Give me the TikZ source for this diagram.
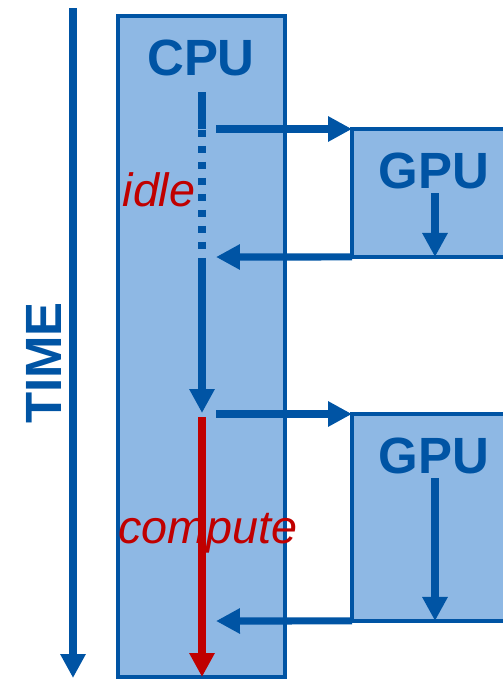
\documentclass[tikz,border=0pt]{standalone}
\usepackage{fontspec}
\setmainfont{Liberation Sans}
\usetikzlibrary{arrows.meta}
\definecolor{hwAzul}{HTML}{0054A4}
\definecolor{hwCeleste}{HTML}{8EB8E4}
\definecolor{hwRojo}{HTML}{C00000}

\begin{document}
\begin{tikzpicture}[x=0.02cm, y=-0.02cm,
      box/.style={draw=hwAzul, line width=2.2pt, fill=hwCeleste, inner sep=0pt, outer sep=0pt},
      lbl/.style={text=hwAzul, font=\fontsize{29}{30}\selectfont\bfseries, inner sep=0pt},
      word/.style={text=hwRojo, font=\fontsize{26.6}{28}\selectfont\itshape, inner sep=0pt, anchor=base},
      flow/.style={draw=#1, line width=4pt, -{Triangle[width=0.48cm, length=0.48cm]}},
      flow/.default=hwAzul]
    \clip (0,0) rectangle (503,680);
    % time axis
    \coordinate (t0) at (73,8);
    \coordinate (t1) at (73,678);
    \draw[flow] (t0) -- (t1);
    \node[lbl, rotate=90] (time) at (44,363) {TIME};
    % host side
    \node[box, minimum width=3.34cm, minimum height=13.22cm] (cpu) at (201.5,346.5) {};
    \node[lbl] (cpul) at (201,57.5) {CPU};
    \node[box, minimum width=3.4cm, minimum height=2.56cm, anchor=north west] (gpuA) at (352,129) {};
    \node[box, minimum width=3.4cm, minimum height=4.14cm, anchor=north west] (gpuB) at (352,414) {};
    \node[lbl] (gpuAl) at (434,171) {GPU};
    \node[lbl] (gpuBl) at (434,456) {GPU};
    \node[word] (idle) at (159,206) {idle};
    \node[word] (comp) at (208,543) {compute};
    % cpu timeline
    \coordinate (a0) at (202,92);
    \coordinate (a1) at (202,129);
    \coordinate (a2) at (202,258);
    \coordinate (a3) at (202,413);
    \coordinate (a4) at (202,417);
    \coordinate (a5) at (202,677);
    \draw[hwAzul, line width=4pt] (a0) -- (a1);
    \draw[hwAzul, line width=4pt, dash pattern=on 4pt off 5.1pt] ([yshift=-0.5pt]a1) -- (a2);
    \draw[flow] (a2) -- (a3);
    \draw[flow=hwRojo] (a4) -- (a5);
    % launches and returns
    \coordinate (s1) at (216,129);
    \coordinate (r1) at (216,257);
    \coordinate (s2) at (216,414);
    \coordinate (r2) at (216,621);
    \draw[flow] (s1) -- (gpuA.north west);
    \draw[flow] (gpuA.south west) -- (r1);
    \draw[flow] (s2) -- (gpuB.north west);
    \draw[flow] (gpuB.south west) -- (r2);
    % gpu work
    \coordinate (g1) at (435,193);
    \coordinate (g2) at (435,478);
    \draw[flow] (g1) -- (g1 |- gpuA.south);
    \draw[flow] (g2) -- (g2 |- gpuB.south);
  \end{tikzpicture}
\end{document}
